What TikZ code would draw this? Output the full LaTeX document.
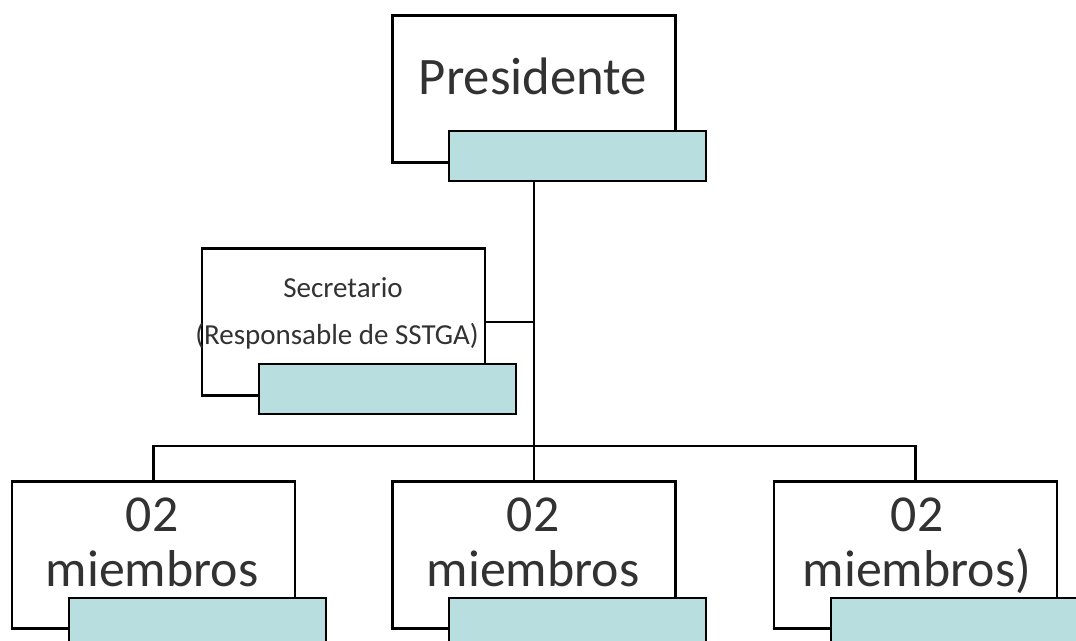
\documentclass[tikz,border=0pt]{standalone}
\usepackage{fontspec}
\setmainfont{Carlito}
\definecolor{barteal}{RGB}{185,222,224}
\definecolor{txtgray}{RGB}{50,50,50}
\tikzset{
  outerbox/.style={draw, line width=1.3pt, minimum width=5.66cm, minimum height=2.94cm, inner sep=0pt},
  barbox/.style={draw, line width=1.3pt, fill=barteal, minimum width=5.14cm, minimum height=1cm, inner sep=0pt, anchor=north west},
  wire/.style={line width=1.3pt},
  bigtxt/.style={text=txtgray, font=\fontsize{30}{36}\selectfont, inner sep=0pt, anchor=base},
  midtxt/.style={text=txtgray, font=\fontsize{29.5}{35}\selectfont, inner sep=0pt, anchor=base},
  smalltxt/.style={text=txtgray, font=\fontsize{16.5}{20}\selectfont, inner sep=0pt, anchor=base}
}
\begin{document}
\begin{tikzpicture}[x=0.02cm, y=-0.02cm]
\fill[white] (0,0) rectangle (1076,641);
\useasboundingbox (0,0) rectangle (1076,641);
\def\bary{597}
%boxes
\node[outerbox] (pres) at (534,89) {};
\node[outerbox] (sec) at (343.5,322) {};
\foreach \i/\x in {1/153.5, 2/534, 3/915.5} \node[outerbox] (m\i) at (\x,555) {};
%label
\node[bigtxt] (presT) at (533,95) {Presidente};
\node[smalltxt] (secA) at (343,298) {Secretario};
\node[smalltxt] (secB) at (337,345) {(Responsable de SSTGA)};
\foreach \i/\x/\t in {1/152/miembros, 2/533/miembros, 3/917/miembros)} {
  \node[midtxt] (num\i) at (\x,532) {02};
  \node[midtxt] (mem\i) at (\x,587) {\t};
}
%teal bars
\node[barbox] (pbar) at (448,130) {};
\node[barbox] (sbar) at (258,363) {};
\foreach \i/\x in {1/68, 2/448, 3/830} \node[barbox] (mbar\i) at (\x,\bary) {};
%lines
\coordinate (bus) at (534,446);
\draw[wire] (pbar.south -| pres.south) -- (m2.north);
\draw[wire] (sec.east) -- (sec.east -| pres.south);
\draw[wire] (m1.north) |- (bus) -| (m3.north);
\end{tikzpicture}
\end{document}
